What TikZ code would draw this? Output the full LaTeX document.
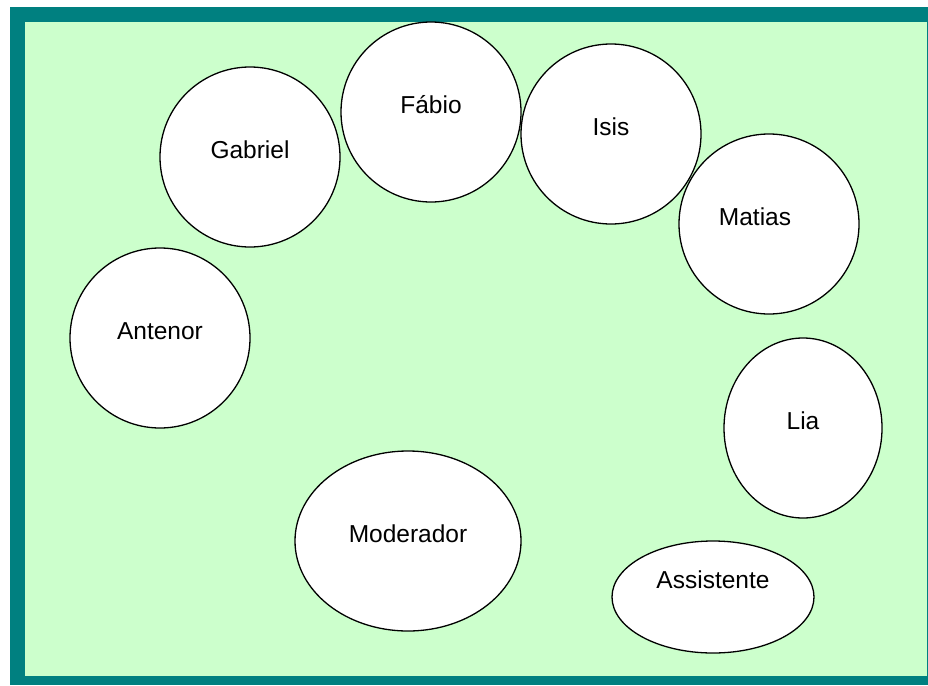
\documentclass[tikz,border=0pt]{standalone}
\usepackage{fontspec}
\setmainfont{Liberation Sans}
\usepackage{xcolor}
\usepackage{tikz}
\usetikzlibrary{shapes.geometric}

\definecolor{frameteal}{HTML}{008080}
\definecolor{roomgreen}{HTML}{CCFFCC}

\begin{document}
\begin{tikzpicture}[
  x=1pt, y=-1pt,
  font=\fontsize{24.5}{28}\selectfont,
  seat/.style={ellipse, draw=black, line width=1.3pt, fill=white,
               inner sep=0pt, text height=18pt, text depth=16pt,
               minimum width=180pt, minimum height=180pt}
]
\useasboundingbox (0,0) rectangle (928,685);
% --- room ---
\fill[frameteal] (10,7) rectangle (928,685);
\fill[roomgreen] (25,22) rectangle (927,676);
% --- participants ---
\node[seat] (gabriel) at (250,157) {Gabriel};
\node[seat] (fabio) at (431,112) {Fábio};
\node[seat] (isis) at (611,134) {Isis};
\node[seat] (matias) at (769,224) {Matias\hspace*{28pt}};
\node[seat] (antenor) at (160,338) {Antenor};
\node[seat, minimum width=158pt] (lia) at (803,428) {Lia};
\node[seat, minimum width=226pt] (moderador) at (408,541) {Moderador};
\node[seat, minimum width=202pt, minimum height=112pt,
      text depth=36pt] (assistente) at (713,597) {Assistente};
\end{tikzpicture}
\end{document}
